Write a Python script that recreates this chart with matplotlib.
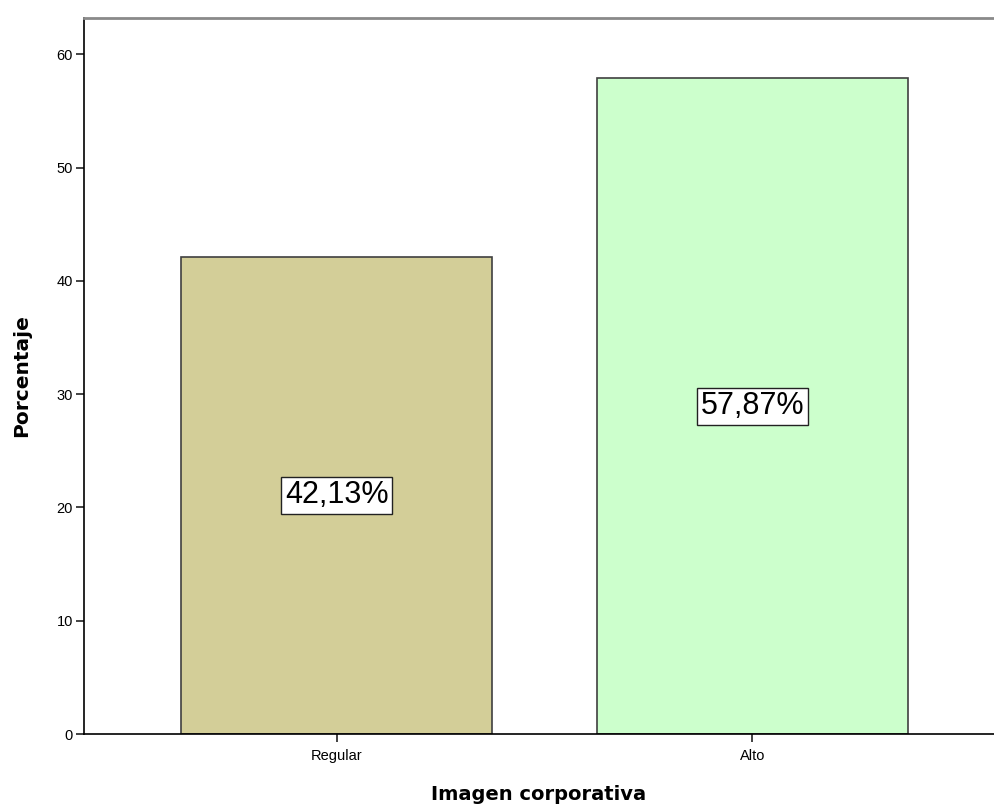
import matplotlib
matplotlib.use('Agg')
import matplotlib.pyplot as plt
import numpy as np

plt.rcParams['font.family'] = ['Liberation Sans', 'DejaVu Sans']

# datos
categorias = ['Regular', 'Alto']
porcentajes = [42.13, 57.87]
colores = ['#d3ce98', '#ccffcc']

fig = plt.figure(figsize=(9.94, 8.11), dpi=100)
ax = fig.add_axes([84 / 994, (811 - 734) / 811, (994 - 84) / 994, (734 - 18) / 811])

x = np.arange(len(categorias))
ax.bar(x, porcentajes, width=0.748, color=colores, edgecolor='#404040', linewidth=1.2, zorder=2)

for xi, v in zip(x, porcentajes):
    ax.text(xi, v / 2, f'{v:.2f}%'.replace('.', ','), ha='center', va='center', fontsize=22,
            bbox=dict(boxstyle='square,pad=0.12', facecolor='white', edgecolor='#222222', linewidth=1),
            zorder=3)

ax.set_xlim(-0.608, 1.582)
ax.set_ylim(0, 63.2)
ax.set_yticks([0, 10, 20, 30, 40, 50, 60])
ax.set_xticks(x)
ax.set_xticklabels(categorias)
ax.tick_params(axis='both', labelsize=10.5, length=6, width=1.2, color='#222222')
ax.tick_params(axis='x', pad=5)
ax.tick_params(axis='y', pad=2)

ax.spines['right'].set_visible(False)
ax.spines['top'].set_color('#8a8a8a')
ax.spines['top'].set_linewidth(2)
ax.spines['left'].set_linewidth(1.2)
ax.spines['bottom'].set_linewidth(1.2)

ax.set_xlabel('Imagen corporativa', fontsize=14, fontweight='bold', family='DejaVu Sans', labelpad=16)
ax.set_ylabel('Porcentaje', fontsize=14.5, fontweight='bold', family='DejaVu Sans', labelpad=18)

fig.savefig('out.png', dpi=100)
